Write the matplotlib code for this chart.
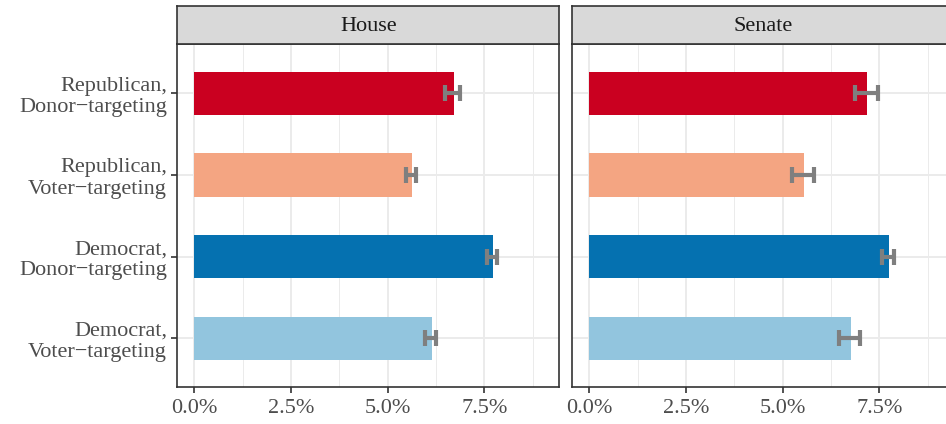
import matplotlib
matplotlib.use("Agg")
import matplotlib.pyplot as plt
from matplotlib.ticker import FixedLocator, FuncFormatter

# Share of spending (%) by party and targeting strategy, with 95% intervals
categories = ["Republican,\nDonor\u2212targeting", "Republican,\nVoter\u2212targeting",
              "Democrat,\nDonor\u2212targeting", "Democrat,\nVoter\u2212targeting"]
chambers = ["House", "Senate"]
house_share = [6.71, 5.64, 7.73, 6.14]
house_low = [6.49, 5.48, 7.57, 5.96]
house_high = [6.87, 5.73, 7.82, 6.24]
senate_share = [7.19, 5.56, 7.75, 6.77]
senate_low = [6.86, 5.24, 7.57, 6.46]
senate_high = [7.47, 5.81, 7.88, 7.01]
bar_colors = ["#CA0020", "#F4A582", "#0571B0", "#92C5DE"]
x_ticks = [0.0, 2.5, 5.0, 7.5]
x_minor = [1.25, 3.75, 6.25, 8.75]

plt.rcParams["font.family"] = ["Liberation Serif", "DejaVu Serif"]
FS = 16

W, H = 946, 424
fig = plt.figure(figsize=(W / 100, H / 100), dpi=100)
fig.patch.set_facecolor("white")


def px_axes(x0, y0, x1, y1):
    return fig.add_axes([x0 / W, 1 - y1 / H, (x1 - x0) / W, (y1 - y0) / H])


panel_top, panel_bot = 44.3, 387.3
strip_top = 6.0
panel_x = [(177.3, 559.3), (572.3, 954.3)]
data = [(house_share, house_low, house_high), (senate_share, senate_low, senate_high)]

ypos = [4, 3, 2, 1]
border = "#333333"

for i, (chamber, (x0, x1), (share, lo, hi)) in enumerate(zip(chambers, panel_x, data)):
    ax = px_axes(x0, panel_top, x1, panel_bot)
    ax.set_xlim(-0.44, 9.44)
    ax.set_ylim(0.4, 4.6)
    ax.set_axisbelow(True)

    ax.xaxis.set_major_locator(FixedLocator(x_ticks))
    ax.xaxis.set_minor_locator(FixedLocator(x_minor))
    ax.xaxis.set_major_formatter(FuncFormatter(lambda v, p: f"{v:.1f}%"))
    ax.grid(True, which="major", color="#EBEBEB", linewidth=1.4)
    ax.grid(True, which="minor", axis="x", color="#EBEBEB", linewidth=0.7)

    ax.barh(ypos, share, height=0.53, color=bar_colors, zorder=2)
    xerr = [[s - l for s, l in zip(share, lo)], [h - s for s, h in zip(share, hi)]]
    ax.errorbar(share, ypos, xerr=xerr, fmt="none", ecolor="#7F7F7F",
                elinewidth=3.0, capsize=6.0, capthick=3.0, zorder=3)

    ax.set_yticks(ypos)
    ax.tick_params(axis="both", which="major", length=4.5, width=1.2, color=border,
                   labelsize=FS, labelcolor="#4D4D4D", pad=3)
    if i == 0:
        ax.set_yticklabels(categories, fontsize=FS, color="#4D4D4D",
                           multialignment="right", linespacing=1.15)
    else:
        ax.set_yticklabels([])
        ax.tick_params(axis="y", length=0)
    ax.tick_params(axis="x", which="minor", length=0)
    ax.tick_params(axis="x", pad=4)
    for sp in ax.spines.values():
        sp.set_color(border)
        sp.set_linewidth(1.2)

    st = px_axes(x0, strip_top, x1, panel_top)
    st.set_facecolor("#D9D9D9")
    st.set_xticks([])
    st.set_yticks([])
    for sp in st.spines.values():
        sp.set_color(border)
        sp.set_linewidth(1.2)
    st.text(0.5, 0.47, chamber, transform=st.transAxes, ha="center", va="center",
            fontsize=FS, color="#1A1A1A")

fig.savefig("out.png", dpi=100)
